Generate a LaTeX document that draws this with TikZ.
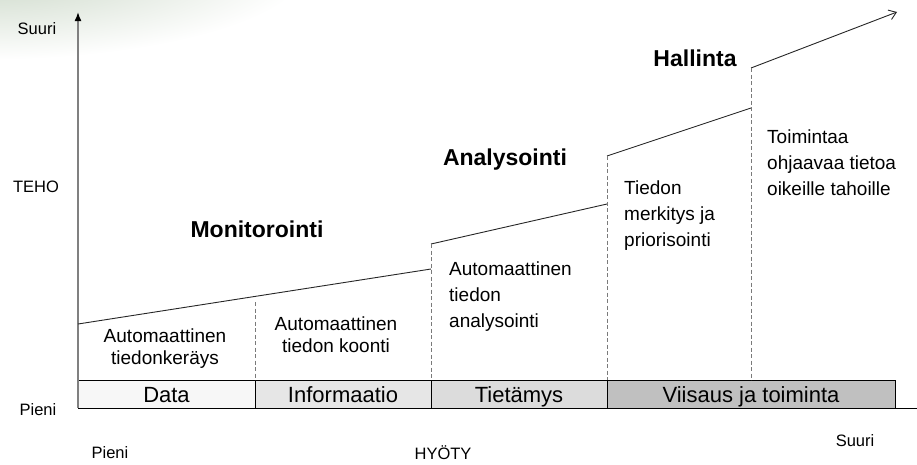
\documentclass[tikz,border=0pt]{standalone}
\usepackage{fontspec}
\setmainfont{Liberation Sans}
\usetikzlibrary{arrows.meta}

\definecolor{haze}{HTML}{C6D4C2}
\definecolor{fillA}{HTML}{F7F7F7}
\definecolor{fillB}{HTML}{E6E6E6}
\definecolor{fillC}{HTML}{DCDCDC}
\definecolor{fillD}{HTML}{C0C0C0}
\definecolor{axisgray}{HTML}{808080}
\definecolor{guidegray}{HTML}{7A7A7A}

\begin{document}
\begin{tikzpicture}[x=1pt,y=-1pt,
  lbl/.style={font=\fontsize{16.5}{19}\selectfont, inner sep=0pt},
  txt/.style={font=\fontsize{19}{22}\selectfont, align=center, inner sep=0pt},
  txtl/.style={font=\fontsize{19}{26}\selectfont, align=left, anchor=west, inner sep=0pt},
  phase/.style={font=\bfseries\fontsize{23}{26}\selectfont, inner sep=0pt},
  stage/.style={draw=black, line width=0.8pt, minimum height=28pt, inner sep=0pt,
    outer sep=0pt, anchor=north west, text height=18pt, text depth=2pt,
    font=\fontsize{22}{24}\selectfont},
  guide/.style={draw=guidegray, dash pattern=on 4pt off 2.5pt, line width=0.8pt},
  trend/.style={draw=black!85, line width=0.9pt},
]
\useasboundingbox (0,0) rectangle (917,464);

% soft tinted corner
\begin{scope}
  \clip (0,0) rectangle (917,464);
  \shade[inner color=haze, outer color=white] (-20,-35) ellipse [x radius=330, y radius=95];
\end{scope}

% stage bar along the bottom
\node[stage, fill=fillA, minimum width=177pt] (data) at (78,380) {Data};
\node[stage, fill=fillB, minimum width=176pt] (info) at (data.north east) {Informaatio};
\node[stage, fill=fillC, minimum width=176pt] (know) at (info.north east) {Tietämys};
\node[stage, fill=fillD, minimum width=288pt] (wise) at (know.north east) {Viisaus ja toiminta};

% axes
\coordinate (xend) at (917,408);
\coordinate (yend) at (78,12);
\draw[black, line width=0.8pt] (data.south west) -- (xend);
\draw[axisgray, line width=1.6pt, -{Latex[black, length=9pt, width=7pt]}] (data.south west) -- (yend);

% rising trend, stepping up at each stage
\coordinate (p0) at (78,324);
\coordinate (p1) at (431,269);
\coordinate (p2) at (431,244);
\coordinate (p3) at (607,204);
\coordinate (p4) at (607,156);
\coordinate (p5) at (751,108);
\coordinate (p6) at (751,68);
\coordinate (p7) at (897,12);
\draw[trend] (p0) -- (p1);
\draw[trend] (p2) -- (p3);
\draw[trend] (p4) -- (p5);
\draw[trend, -{Straight Barb[length=7pt, width=10pt]}] (p6) -- (p7);

% dashed dividers
\coordinate (d1) at (255,302);
\coordinate (d1b) at (255,380);
\coordinate (d2b) at (431,380);
\coordinate (d3b) at (607,380);
\coordinate (d4b) at (751,380);
\draw[guide] (d1) -- (d1b);
\draw[guide] (p2) -- (d2b);
\draw[guide] (p4) -- (d3b);
\draw[guide] (p6) -- (d4b);

% axis labels
\node[lbl] (ymax) at (37,29) {Suuri};
\node[lbl] (yname) at (36,187) {TEHO};
\node[lbl] (ymin) at (38,410) {Pieni};
\node[lbl] (xmin) at (110,453) {Pieni};
\node[lbl] (xname) at (443,453) {HYÖTY};
\node[lbl] (xmax) at (855,441) {Suuri};

% phase titles
\node[phase] (mon) at (257,229) {Monitorointi};
\node[phase] (ana) at (505,160) {Analysointi};
\node[phase] (hal) at (695,58) {Hallinta};

% descriptions
\node[txt] (t1) at (165,349) {Automaattinen\\tiedonkeräys};
\node[txt] (t2) at (336,335) {Automaattinen\\tiedon koonti};
\node[txtl] (t3) at (449,297) {Automaattinen\\tiedon\\analysointi};
\node[txtl] (t4) at (624,216) {Tiedon\\merkitys ja\\priorisointi};
\node[txtl] (t5) at (767,163) {Toimintaa\\ohjaavaa tietoa\\oikeille tahoille};
\end{tikzpicture}
\end{document}
